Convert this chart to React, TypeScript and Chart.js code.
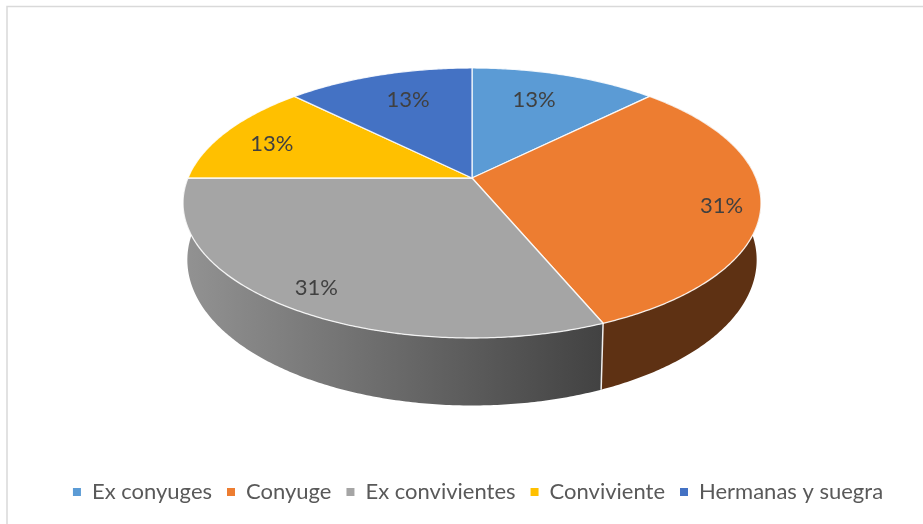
import React, { useEffect, useRef } from "react";
import { Chart, registerables } from "chart.js";

Chart.register(...registerables);

const categories = ["Ex conyuges", "Conyuge", "Ex convivientes", "Conviviente", "Hermanas y suegra"];
const values = [2, 5, 5, 2, 2];
const percentLabels = ["13%", "31%", "31%", "13%", "13%"];
const topColors = ["#5B9BD5", "#ED7D31", "#A5A5A5", "#FFC000", "#4472C4"];
const labelRadius = [0.72, 0.87, 0.87, 0.79, 0.72];
const labelAngleNudge = [-2.5, 2.5, -0.75, -2.2, 1.9];

const FONT = "Lato, Carlito, 'Open Sans', sans-serif";
const PERSPECTIVE = -0.185;

const pie3d = {
  id: "pie3d",
  beforeDraw(chart: any) {
    const { ctx, width, height } = chart;
    ctx.save();
    ctx.fillStyle = "#ffffff";
    ctx.fillRect(0, 0, width, height);
    ctx.strokeStyle = "#d9d9d9";
    ctx.lineWidth = 1.5;
    ctx.beginPath();
    ctx.moveTo(7, height);
    ctx.lineTo(7, 6.5);
    ctx.lineTo(width, 6.5);
    ctx.stroke();
    ctx.restore();
  },
  beforeDatasetsDraw(chart: any) {
    const { ctx } = chart;
    const arcs = chart.getDatasetMeta(0).data;
    const first = arcs[0];
    const cx = first.x - 6;
    const cy = 178;
    const rx = 284;
    const ry = 130.4;

    const top = (a: number, r = 1) => {
      const x = Math.cos(a) * r;
      const t = Math.sin(a) * r;
      const d = 1 + PERSPECTIVE * t;
      return [cx + (rx * x) / d, cy + (ry * t) / d];
    };
    const low = (a: number) => {
      const x = Math.cos(a);
      const t = Math.sin(a);
      const d = 1 + PERSPECTIVE * t;
      return [cx + (0.985 * rx * x) / d, cy + (ry * t) / d + 55 / d];
    };
    const sample = (s: number, e: number) => {
      const out: number[] = [];
      const n = Math.max(2, Math.ceil((e - s) / 0.01));
      for (let i = 0; i <= n; i++) out.push(s + ((e - s) * i) / n);
      return out;
    };

    ctx.save();
    ctx.lineJoin = "round";

    // Side walls of the slices that face the viewer
    const grayWall = ctx.createLinearGradient(186, 0, 602, 0);
    grayWall.addColorStop(0, "#929292");
    grayWall.addColorStop(1, "#424242");
    const wallFill: Record<number, any> = { 1: "#5E3113", 2: grayWall };
    [1, 2].forEach((i) => {
      const el = arcs[i];
      const s = el.startAngle;
      const e = Math.min(el.endAngle, Math.PI + 0.12);
      const angles = sample(s, e);
      ctx.beginPath();
      angles.forEach((a, j) => {
        const p = top(a);
        if (j === 0) ctx.moveTo(p[0], p[1]);
        else ctx.lineTo(p[0], p[1]);
      });
      [...angles].reverse().forEach((a) => {
        const p = low(a);
        ctx.lineTo(p[0], p[1]);
      });
      ctx.closePath();
      ctx.fillStyle = wallFill[i];
      ctx.fill();
    });
    // seam between the two visible walls
    const seam = arcs[1].endAngle;
    ctx.strokeStyle = "rgba(255,255,255,0.9)";
    ctx.lineWidth = 1.5;
    ctx.beginPath();
    ctx.moveTo(top(seam)[0], top(seam)[1]);
    ctx.lineTo(low(seam)[0], low(seam)[1]);
    ctx.stroke();

    // Top face
    arcs.forEach((el: any, i: number) => {
      ctx.beginPath();
      ctx.moveTo(cx, cy);
      sample(el.startAngle, el.endAngle).forEach((a) => {
        const p = top(a);
        ctx.lineTo(p[0], p[1]);
      });
      ctx.closePath();
      ctx.fillStyle = topColors[i];
      ctx.fill();
      ctx.strokeStyle = "rgba(255,255,255,0.85)";
      ctx.lineWidth = 1.3;
      ctx.stroke();
    });

    // Data labels
    ctx.fillStyle = "#404040";
    ctx.font = `22px ${FONT}`;
    ctx.textAlign = "center";
    ctx.textBaseline = "middle";
    arcs.forEach((el: any, i: number) => {
      const mid = (el.startAngle + el.endAngle) / 2 + (labelAngleNudge[i] * Math.PI) / 180;
      const p = top(mid, labelRadius[i]);
      ctx.fillText(percentLabels[i], p[0], p[1]);
    });
    ctx.restore();
    return false;
  },
};

export default function App() {
  const ref = useRef<HTMLCanvasElement | null>(null);

  useEffect(() => {
    if (!ref.current) return;
    const chart = new Chart(ref.current, {
      type: "pie",
      data: {
        labels: categories,
        datasets: [{ data: values, backgroundColor: topColors, borderWidth: 0 }],
      },
      options: {
        responsive: false,
        animation: false,
        devicePixelRatio: 1,
        events: [],
        layout: { padding: { left: 33, right: 0, top: 8, bottom: 11 } },
        plugins: {
          tooltip: { enabled: false },
          legend: {
            position: "bottom",
            labels: {
              boxWidth: 8,
              boxHeight: 8,
              padding: 15,
              color: "#595959",
              font: { family: FONT, size: 22 },
              generateLabels: () =>
                categories.map((name, i) => ({
                  text: name,
                  fillStyle: topColors[i],
                  strokeStyle: topColors[i],
                  lineWidth: 0,
                  fontColor: "#595959",
                  index: i,
                  hidden: false,
                })),
            },
          },
        },
      },
      plugins: [pie3d],
    } as any);
    return () => chart.destroy();
  }, []);

  return (
    <canvas
      ref={ref}
      width={923}
      height={524}
      style={{ position: "fixed", left: 0, top: 0, display: "block", width: 923, height: 524 }}
    />
  );
}
